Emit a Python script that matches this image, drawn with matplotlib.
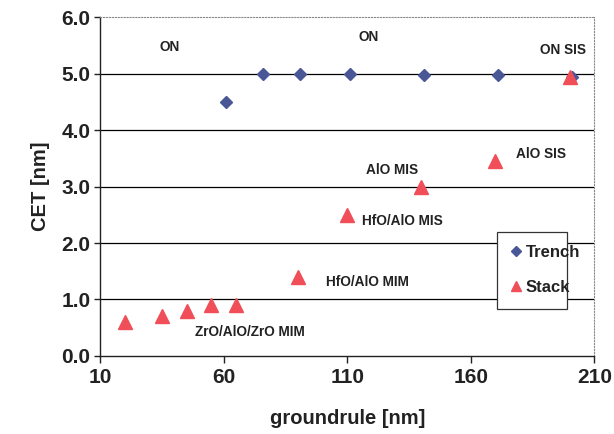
import numpy as np
import matplotlib
matplotlib.use("Agg")
import matplotlib.pyplot as plt

plt.rcParams['font.family'] = ['Liberation Sans', 'DejaVu Sans']
plt.rcParams['font.weight'] = 'bold'

# Trench data (diamonds)
trench_x = [61, 76, 91, 111, 141, 171, 201]
trench_y = [4.5, 5.0, 5.0, 4.99, 4.98, 4.97, 4.95]

# Stack data (triangles)
stack_x = [20, 35, 45, 55, 65, 90, 110, 140, 170, 200]
stack_y = [0.6, 0.7, 0.8, 0.9, 0.9, 1.4, 2.5, 3.0, 3.45, 4.95]

x_ticks = [10, 60, 110, 160, 210]
y_ticks = [0, 1, 2, 3, 4, 5, 6]

# annotation labels and where they sit
labels = ["ON", "ON", "ON SIS", "AlO SIS", "AlO MIS", "HfO/AlO MIS",
          "HfO/AlO MIM", "ZrO/AlO/ZrO MIM"]
label_x = [38, 118.5, 197.5, 188.5, 128, 132.5, 118, 70.5]
label_y = [5.47, 5.65, 5.43, 3.58, 3.29, 2.39, 1.31, 0.43]

fig = plt.figure(figsize=(6.14, 4.34), dpi=100)
ax = fig.add_axes([0.163, 0.18, 0.805, 0.78])

# grid lines
for yv in y_ticks[1:-1]:
    ax.axhline(yv, color='black', lw=0.9, zorder=1)

ax.plot(trench_x, trench_y, linestyle='none', marker='D', ms=6.5,
        color='#4a5796', label='Trench', zorder=3)
ax.plot(stack_x, stack_y, linestyle='none', marker='^', ms=10,
        color='#f04e58', label='Stack', zorder=4)

for t, lx, ly in zip(labels, label_x, label_y):
    ax.text(lx, ly, t, ha='center', va='center', fontsize=9.8, fontweight='bold',
            color='#222222')

ax.set_xlim(10, 210)
ax.set_ylim(0, 6)
ax.set_xticks(x_ticks)
ax.set_xticklabels([str(v) for v in x_ticks])
ax.set_yticks(y_ticks)
ax.set_yticklabels(["%.1f" % v for v in y_ticks])
ax.tick_params(axis='both', labelsize=15, direction='out', length=5, width=1,
               colors='#222222')
ax.tick_params(axis='y', length=4, pad=3)

for s in ['top', 'right']:
    ax.spines[s].set_color('#888888')
    ax.spines[s].set_linestyle(':')
for s in ['left', 'bottom']:
    ax.spines[s].set_color('#222222')
    ax.spines[s].set_linewidth(1.0)

ax.set_xlabel("groundrule [nm]", fontsize=14.5, fontweight='bold', color='#222222',
              labelpad=16)
ax.set_ylabel("CET [nm]", fontsize=14.5, fontweight='bold', color='#222222',
              labelpad=8)

leg = ax.legend(loc='lower left', bbox_to_anchor=(0.787, 0.115, 0.174, 0.26),
                mode='expand', fontsize=12, frameon=True, fancybox=False,
                handlelength=0.6, handletextpad=0.3, labelspacing=1.2,
                borderpad=0.8, markerscale=0.75)
leg.get_frame().set_edgecolor('#333333')
leg.get_frame().set_linewidth(0.9)
leg.get_frame().set_alpha(1)
for txt in leg.get_texts():
    txt.set_color('#222222')

fig.savefig("out.png", dpi=100)
